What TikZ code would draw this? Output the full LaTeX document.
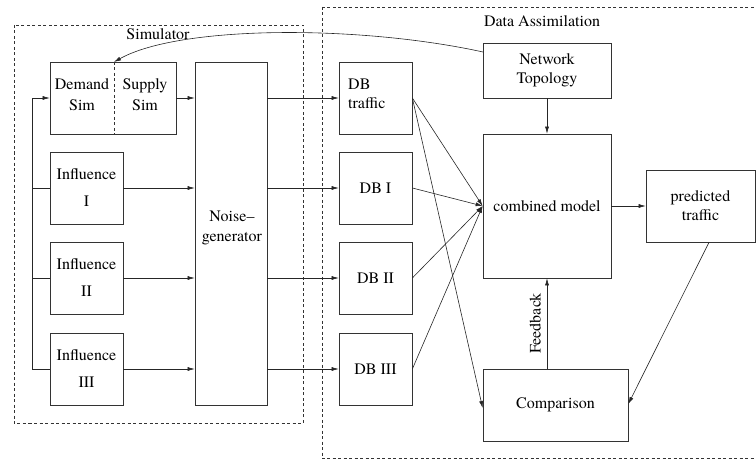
\documentclass[tikz,border=0pt]{standalone}
\usepackage{fontspec}
\IfFontExistsTF{TeX Gyre Termes}
  {\setmainfont{TeX Gyre Termes}}
  {\setmainfont{Liberation Serif}}
\usetikzlibrary{arrows.meta,calc}
\begin{document}
\begin{tikzpicture}[x=1pt,y=-1pt,
  every node/.style={font=\rmfamily\fontsize{16}{19}\selectfont},
  box/.style={draw=black!80,line width=0.7pt,rectangle,inner sep=0pt,align=center},
  lbl/.style={inner sep=0pt,align=center},
  conn/.style={draw=black!85,line width=0.6pt},
  arr/.style={conn,-{Latex[length=7pt,width=4pt]}},
  frame/.style={draw=black!80,line width=0.6pt,dash pattern=on 3pt off 2.5pt}]
\useasboundingbox (0,0) rectangle (756,460);
% frames
\draw[frame] (14,25) rectangle (303,423);
\draw[frame] (322,7) rectangle (760,458.5);
\node[lbl] (simlbl) at (158,34) {Simulator};
\node[lbl] (dalbl) at (542,21) {Data Assimilation};
% simulator boxes
\node[box,minimum width=126pt,minimum height=72pt] (ds) at (113,98) {};
\coordinate (divt) at (114,62);
\coordinate (divb) at (114,134);
\draw[frame] (divt) -- (divb);
\node[lbl] (demand) at (82,95) {Demand\\[2pt]Sim};
\node[lbl] (supply) at (145,95) {Supply\\[2pt]Sim};
\node[box,minimum width=73pt,minimum height=72pt] (i1) at (86.5,188) {Influence\\[8pt]I};
\node[box,minimum width=73pt,minimum height=72pt] (i2) at (86.5,278) {Influence\\[8pt]II};
\node[box,minimum width=73pt,minimum height=72pt] (i3) at (86.5,369) {Influence\\[8pt]III};
\node[box,minimum width=72pt,minimum height=343pt] (noise) at (231,233.5) {};
\node[lbl] (noisetxt) at (232,228) {Noise--\\[1pt]generator};
% DB boxes
\node[box,minimum width=73pt,minimum height=72pt] (dbt) at (375.5,98) {};
\node[lbl,align=left,anchor=west] (dbttxt) at (348,94) {DB\\traffic};
\node[box,minimum width=73pt,minimum height=72pt] (db1) at (375.5,188) {DB I};
\node[box,minimum width=73pt,minimum height=72pt] (db2) at (375.5,278) {DB II};
\node[box,minimum width=73pt,minimum height=72pt] (db3) at (375.5,369) {DB III};
% data assimilation
\node[box,minimum width=128pt,minimum height=55pt] (nt) at (547,70.5) {Network\\Topology};
\node[box,minimum width=128pt,minimum height=144pt] (cm) at (547,206) {combined model};
\node[box,minimum width=109pt,minimum height=72pt] (pt) at (700.5,206) {predicted\\traffic};
\node[box,minimum width=145pt,minimum height=72pt] (cmp) at (555.5,405) {Comparison};
% left bus
\coordinate (bt) at (32,98);
\coordinate (bb) at (32,369);
\draw[conn] (bb) -- (bt);
\draw[arr] (bt) -- (ds.west);
\draw[conn] (bt |- i1.west) -- (i1.west);
\draw[conn] (bt |- i2.west) -- (i2.west);
\draw[conn] (bb) -- (i3.west);
% into noise
\draw[arr] (ds.east) -- (noise.west |- ds.east);
\draw[arr] (i1.east) -- (noise.west |- i1.east);
\draw[arr] (i2.east) -- (noise.west |- i2.east);
\draw[arr] (i3.east) -- (noise.west |- i3.east);
% noise to DBs
\draw[arr] (noise.east |- dbt.west) -- (dbt.west);
\draw[arr] (noise.east |- db1.west) -- (db1.west);
\draw[arr] (noise.east |- db2.west) -- (db2.west);
\draw[arr] (noise.east |- db3.west) -- (db3.west);
% DBs to combined model
\draw[arr] (dbt.east) -- (cm.west);
\draw[arr] (db1.east) -- (cm.west);
\draw[arr] (db2.east) -- (cm.west);
\draw[arr] (db3.east) -- (cm.west);
\draw[arr] (dbt.east) -- ($(cmp.west)+(0,3)$);
% others
\draw[arr] (nt.south) -- (cm.north);
\draw[arr] (cm.east) -- (pt.west);
\draw[arr] ($(pt.south)+(8.5,0)$) -- ($(cmp.east)+(0,-1)$);
\draw[arr] (cm.south |- cmp.north) -- (cm.south) node[pos=0.5,rotate=90,anchor=south,inner sep=0pt,yshift=6pt] (fb) {Feedback};
\coordinate (ntc) at (483,52);
\draw[arr] (ntc) .. controls (360,25) and (180,25) .. (divt);
\end{tikzpicture}
\end{document}
